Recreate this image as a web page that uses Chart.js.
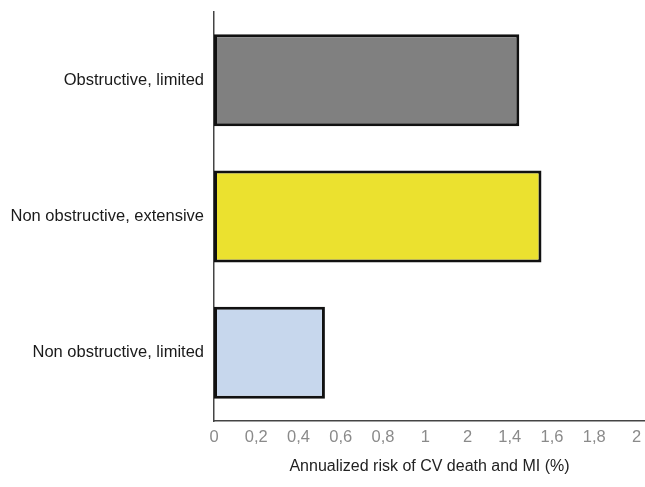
<!DOCTYPE html>
<html>
<head>
<meta charset="utf-8">
<script src="https://cdn.jsdelivr.net/npm/chart.js@4/dist/chart.umd.min.js"></script>
<style>
html,body{margin:0;padding:0;background:#fff;}
#wrap{width:645px;height:487px;position:relative;}
</style>
</head>
<body>
<div id="wrap"><canvas id="c" width="645" height="487"></canvas></div>
<script>
const categories = ["Obstructive, limited", "Non obstructive, extensive", "Non obstructive, limited"];
const riskValues = [1.445, 1.55, 0.525];
const barColors = ["#808080", "#ebe12f", "#c7d7ed"];
const tickValues = [0, 0.2, 0.4, 0.6, 0.8, 1.0, 1.2, 1.4, 1.6, 1.8, 2.0];
const tickLabels = ["0", "0,2", "0,4", "0,6", "0,8", "1", "2", "1,4", "1,6", "1,8", "2"];
const axisTitle = "Annualized risk of CV death and MI (%)";

function zeroPad(scale) {
  scale.paddingLeft = 0; scale.paddingRight = 0;
  scale.paddingTop = 0; scale.paddingBottom = 0;
}

new Chart(document.getElementById('c'), {
  type: 'bar',
  data: {
    labels: categories,
    datasets: [{
      data: riskValues,
      backgroundColor: barColors,
      borderColor: "#111111",
      borderWidth: 3,
      borderSkipped: false,
      barPercentage: 0.675,
      categoryPercentage: 1.0
    }]
  },
  options: {
    indexAxis: 'y',
    responsive: false,
    animation: false,
    devicePixelRatio: 1,
    layout: { padding: { top: 12, right: 0, left: 0, bottom: 0 } },
    plugins: { legend: { display: false }, tooltip: { enabled: false } },
    scales: {
      x: {
        min: 0,
        max: 2.04,
        afterBuildTicks: (scale) => { scale.ticks = tickValues.map(v => ({ value: v })); },
        afterFit: (scale) => { scale.height = 66; zeroPad(scale); },
        grid: { display: false, drawTicks: false },
        border: { display: true, color: "#444444", width: 1.5 },
        ticks: {
          padding: 7,
          color: "#8a8a8a",
          font: { family: "Liberation Sans, Arial, sans-serif", size: 16.5 },
          maxRotation: 0,
          autoSkip: false,
          callback: (v, i) => tickLabels[i]
        },
        title: {
          display: true,
          text: axisTitle,
          color: "#222222",
          font: { family: "Liberation Sans, Arial, sans-serif", size: 16 },
          padding: { top: 0, bottom: 11 }
        }
      },
      y: {
        afterFit: (scale) => { scale.width = 214; zeroPad(scale); },
        grid: { display: false, drawTicks: false },
        border: { display: true, color: "#444444", width: 1.5 },
        ticks: {
          padding: 10,
          color: "#1a1a1a",
          font: { family: "Liberation Sans, Arial, sans-serif", size: 16.5 }
        }
      }
    }
  }
});
</script>
</body>
</html>
